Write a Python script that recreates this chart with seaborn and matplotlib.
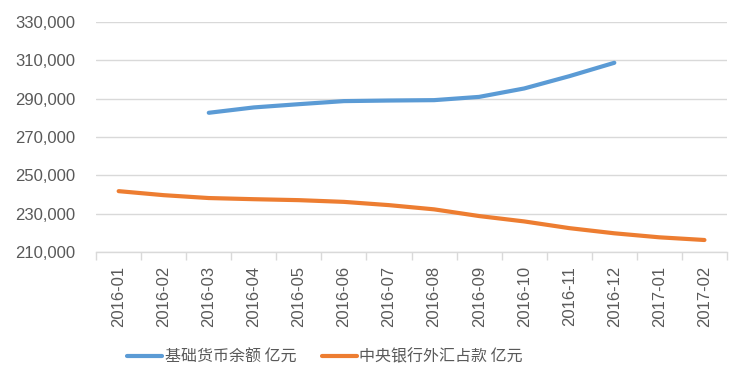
import matplotlib
matplotlib.use("Agg")
import matplotlib.pyplot as plt
import seaborn as sns
import pandas as pd
import numpy as np
from matplotlib.ticker import FuncFormatter, FixedLocator
from matplotlib.lines import Line2D

months = ["2016-01", "2016-02", "2016-03", "2016-04", "2016-05", "2016-06", "2016-07",
          "2016-08", "2016-09", "2016-10", "2016-11", "2016-12", "2017-01", "2017-02"]
base_money = [np.nan, np.nan, 282700, 285500, 287200, 288800, 289100,
              289300, 291000, 295400, 301800, 308800, np.nan, np.nan]
fx_reserve = [241800, 239700, 238200, 237600, 237100, 236200, 234500,
              232300, 228800, 226000, 222500, 219800, 217700, 216300]
series_names = ["基础货币余额 亿元", "中央银行外汇占款 亿元"]
colors = ["#5B9BD5", "#ED7D31"]

sns.set_theme(style="white")
plt.rcParams['font.family'] = ['Noto Sans CJK SC', 'DejaVu Sans']

df = pd.DataFrame({"idx": list(range(len(months))) * 2,
                   "value": base_money + fx_reserve,
                   "series": [series_names[0]] * len(months) + [series_names[1]] * len(months)})

fig = plt.figure(figsize=(7.51, 3.89), dpi=100)
ax = fig.add_axes([0.128, 0.352, 0.840, 0.591])

sns.lineplot(data=df, x="idx", y="value", hue="series", palette=colors,
             hue_order=series_names, linewidth=3, ax=ax, legend=False,
             solid_capstyle="round")

ax.set_xlim(-0.5, len(months) - 0.5)
ax.set_ylim(210000, 330000)
ax.set_yticks(np.arange(210000, 330001, 20000))
ax.yaxis.set_major_formatter(FuncFormatter(lambda v, p: f"{int(v):,}"))
ax.set_xticks(range(len(months)))
ax.set_xticklabels(months, rotation=90)
ax.xaxis.set_minor_locator(FixedLocator(np.arange(-0.5, len(months), 1)))
ax.tick_params(axis="x", which="major", length=0, pad=10, labelsize=12, labelcolor="#595959")
ax.tick_params(axis="x", which="minor", length=6, width=1, color="#D9D9D9", bottom=True)
ax.tick_params(axis="y", length=0, pad=15, labelsize=12, labelcolor="#595959")
for lab in ax.get_yticklabels() + ax.get_xticklabels():
    lab.set_family("Liberation Sans")

ax.grid(axis="y", color="#D9D9D9", linewidth=1)
ax.set_axisbelow(True)
for s in ["left", "right", "top"]:
    ax.spines[s].set_visible(False)
ax.spines["bottom"].set_color("#D9D9D9")
ax.spines["bottom"].set_linewidth(1)
ax.set_xlabel("")
ax.set_ylabel("")

handles = [Line2D([0], [0], color=c, linewidth=3) for c in colors]
fig.legend(handles, series_names, loc="center", bbox_to_anchor=(0.433, 0.082), ncol=2,
           frameon=False, fontsize=11.5, handlelength=2.2, handletextpad=0.15,
           columnspacing=1.6, labelcolor="#595959")

fig.savefig("out.png", dpi=100)
